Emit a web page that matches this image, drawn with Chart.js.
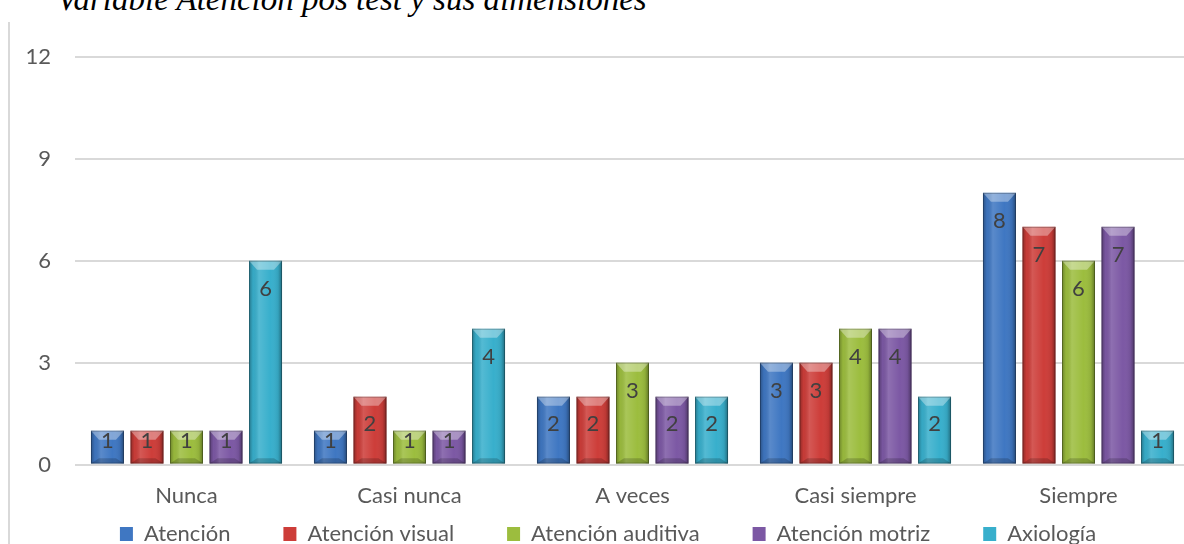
<!DOCTYPE html>
<html>
<head>
<meta charset="utf-8">
<script src="https://cdn.jsdelivr.net/npm/chart.js@4/dist/chart.umd.min.js"></script>
<style>
  html, body { margin: 0; padding: 0; background: #fff; overflow: hidden; }
  #wrap { position: relative; width: 1184px; height: 544px; overflow: hidden; }
  #frame { position: absolute; left: 8px; top: 22px; width: 2px; height: 530px; background: #d9d9d9; }
  #title { position: absolute; left: 57px; top: -17px; font: italic 33px "Liberation Serif", serif; line-height: 1; color: #000; white-space: nowrap; }
  #box { position: absolute; left: 0; top: 0; width: 1192px; height: 604px; }
</style>
</head>
<body>
<div id="wrap">
  <div id="frame"></div>
  <div id="title">Variable Atención pos test y sus dimensiones</div>
  <div id="box"><canvas id="chart"></canvas></div>
</div>
<script>
const categories = ["Nunca", "Casi nunca", "A veces", "Casi siempre", "Siempre"];
const atencion = [1, 1, 2, 3, 8];
const atencionVisual = [1, 2, 2, 3, 7];
const atencionAuditiva = [1, 1, 3, 4, 6];
const atencionMotriz = [1, 1, 2, 4, 7];
const axiologia = [6, 4, 2, 2, 1];
const yTicks = [0, 3, 6, 9, 12];

const FONT = "Lato";
const LEGEND_SHIFT_Y = 49;
const LEGEND_SHIFT_X = 13;

/* Shading + labels drawn on top of each bar the library placed */
const bevelPlugin = {
  id: "bevel",
  afterLayout(chart) {
    // pull the legend up, its padding is only wanted horizontally
    const lg = chart.legend;
    lg.top -= LEGEND_SHIFT_Y;
    lg.bottom -= LEGEND_SHIFT_Y;
    lg.left += LEGEND_SHIFT_X;
    lg.right += LEGEND_SHIFT_X;
  },
  afterDatasetsDraw(chart) {
    const ctx = chart.ctx;
    ctx.save();
    chart.data.datasets.forEach((ds, i) => {
      const meta = chart.getDatasetMeta(i);
      if (meta.hidden) return;
      meta.data.forEach((bar, j) => {
        const p = bar.getProps(["x", "y", "base", "width"], true);
        const l = p.x - p.width / 2;
        const r = p.x + p.width / 2;
        const t = Math.min(p.y, p.base);
        const b = Math.max(p.y, p.base);

        const g = ctx.createLinearGradient(l, 0, r, 0);
        g.addColorStop(0, "rgba(0,0,0,0.30)");
        g.addColorStop(0.12, "rgba(0,0,0,0.04)");
        g.addColorStop(0.3, "rgba(255,255,255,0.14)");
        g.addColorStop(0.65, "rgba(255,255,255,0)");
        g.addColorStop(0.88, "rgba(0,0,0,0.08)");
        g.addColorStop(1, "rgba(0,0,0,0.38)");
        ctx.fillStyle = g;
        ctx.fillRect(l, t, r - l, b - t);

        const bv = Math.min(9, (b - t) / 3);
        const s = Math.min(8, p.width / 4);
        ctx.beginPath();
        ctx.moveTo(l, t);
        ctx.lineTo(r, t);
        ctx.lineTo(r - s, t + bv);
        ctx.lineTo(l + s, t + bv);
        ctx.closePath();
        ctx.fillStyle = "rgba(255,255,255,0.35)";
        ctx.fill();

        ctx.beginPath();
        ctx.moveTo(l, b);
        ctx.lineTo(r, b);
        ctx.lineTo(r - s, b - bv * 0.6);
        ctx.lineTo(l + s, b - bv * 0.6);
        ctx.closePath();
        ctx.fillStyle = "rgba(0,0,0,0.18)";
        ctx.fill();

        ctx.strokeStyle = "rgba(0,0,0,0.25)";
        ctx.lineWidth = 1;
        ctx.strokeRect(l + 0.5, t + 0.5, r - l - 1, b - t - 1);

        /* value label, inside end */
        const v = ds.data[j];
        const mid = (t + b) / 2;
        const ly = Math.min(t + 28, mid - 6);
        ctx.fillStyle = "#404040";
        ctx.font = "22px " + FONT;
        ctx.textAlign = "center";
        ctx.textBaseline = "middle";
        ctx.fillText(String(v), p.x, ly);
      });
    });
    ctx.restore();
  }
};

const series = [
  { label: "Atención", data: atencion, color: "#3f77c2" },
  { label: "Atención visual", data: atencionVisual, color: "#cd3d39" },
  { label: "Atención auditiva", data: atencionAuditiva, color: "#9cbd3e" },
  { label: "Atención motriz", data: atencionMotriz, color: "#7c58a4" },
  { label: "Axiología", data: axiologia, color: "#38afcc" }
];

new Chart(document.getElementById("chart"), {
  type: "bar",
  data: {
    labels: categories,
    datasets: series.map(s => ({
      label: s.label,
      data: s.data,
      backgroundColor: s.color,
      borderWidth: 0,
      categoryPercentage: 0.886,
      barPercentage: 0.835
    }))
  },
  options: {
    responsive: true,
    maintainAspectRatio: false,
    animation: false,
    layout: { padding: { top: 57, left: 0, right: 2, bottom: 0 } },
    plugins: {
      title: { display: false },
      tooltip: { enabled: false },
      legend: {
        position: "bottom",
        labels: {
          boxWidth: 13,
          boxHeight: 14,
          padding: 53,
          color: "#595959",
          font: { family: FONT, size: 22 },
          useBorderRadius: false
        }
      }
    },
    scales: {
      x: {
        grid: { display: false },
        border: { display: false },
        ticks: { color: "#595959", font: { family: FONT, size: 22 }, padding: 10 }
      },
      y: {
        min: 0,
        max: 12,
        afterBuildTicks(scale) {
          scale.ticks = yTicks.map(v => ({ value: v }));
        },
        afterFit(scale) {
          scale.width = 75;
        },
        grid: { color: "#d9d9d9", lineWidth: 2, drawTicks: false },
        border: { display: false },
        ticks: { color: "#595959", font: { family: FONT, size: 22 }, padding: 24 }
      }
    }
  },
  plugins: [bevelPlugin]
});
</script>
</body>
</html>
